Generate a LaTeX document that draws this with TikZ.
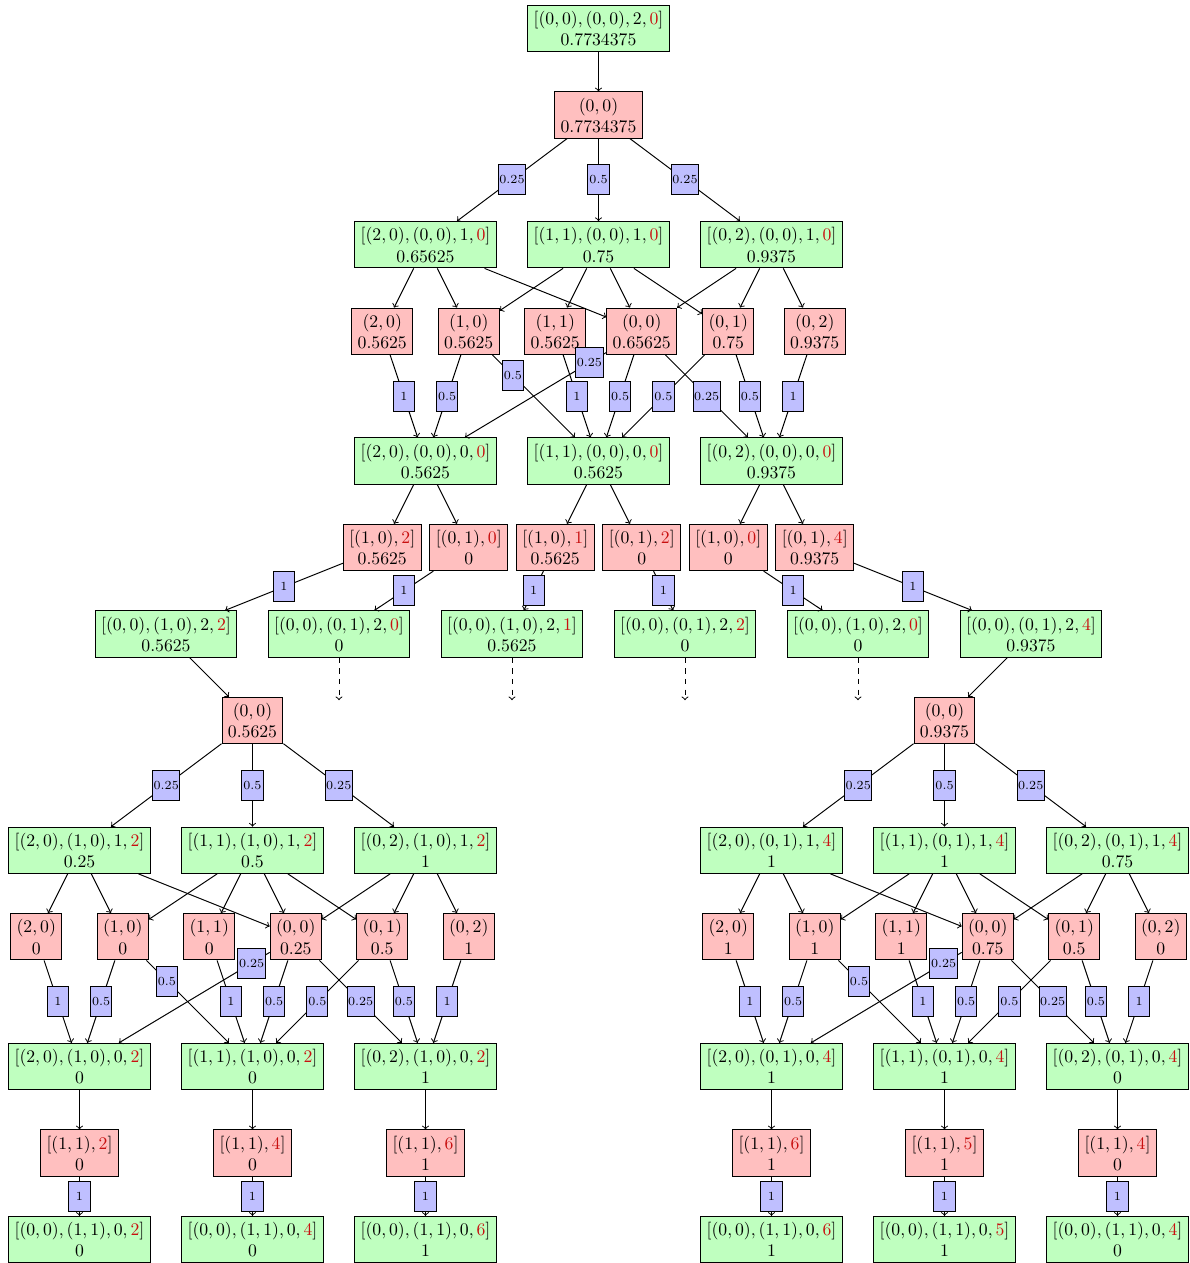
\documentclass[tikz,border=0pt]{standalone}
\usepackage{xcolor}
\definecolor{tagred}{RGB}{200,16,16}
\newcommand{\tg}[1]{\textcolor{tagred}{#1}}
% edges of one expansion block: root -> three states -> six moves -> three states
\newcommand{\blockedges}[1]{%
  \draw[ed] (#1root) -- node[lab]{0.25} (#1g1);
  \draw[ed] (#1root) -- node[lab]{0.5} (#1g2);
  \draw[ed] (#1root) -- node[lab]{0.25} (#1g3);
  \draw[ed] (#1g1) -- (#1ra);
  \draw[ed] (#1g1) -- (#1rb);
  \draw[ed] (#1g1) -- (#1rd);
  \draw[ed] (#1g2) -- (#1rb);
  \draw[ed] (#1g2) -- (#1rc);
  \draw[ed] (#1g2) -- (#1rd);
  \draw[ed] (#1g2) -- (#1re);
  \draw[ed] (#1g3) -- (#1rd);
  \draw[ed] (#1g3) -- (#1re);
  \draw[ed] (#1g3) -- (#1rf);
  \draw[ed] (#1ra) -- node[lab]{1} (#1h1);
  \draw[ed] (#1rb) -- node[lab]{0.5} (#1h1);
  \draw[ed] (#1rb) -- node[lab,pos=0.25]{0.5} (#1h2);
  \draw[ed] (#1rc) -- node[lab]{1} (#1h2);
  \draw[ed] (#1rd) -- node[lab,pos=0.12]{0.25} (#1h1);
  \draw[ed] (#1rd) -- node[lab]{0.5} (#1h2);
  \draw[ed] (#1rd) -- node[lab]{0.25} (#1h3);
  \draw[ed] (#1re) -- node[lab]{0.5} (#1h2);
  \draw[ed] (#1re) -- node[lab]{0.5} (#1h3);
  \draw[ed] (#1rf) -- node[lab]{1} (#1h3);
}
\begin{document}
\begin{tikzpicture}[x=24.44pt,y=-24.44pt,line width=0.55pt,
  gn/.style={draw,fill=green!25,align=center},
  rn/.style={draw,fill=red!25,align=center},
  lab/.style={draw,fill=blue!25,font=\scriptsize,inner xsep=0.6pt,inner ysep=0pt,
              minimum width=12pt,minimum height=17pt},
  ed/.style={->}]
\useasboundingbox (-13.838,-0.659) rectangle (13.676,28.543);

% ---------- upper block ----------
\node[gn] (g0) at (0,0) {$[(0,0),(0,0),2,\tg{0}]$\\$0.7734375$};
\node[rn] (Uroot) at (0,2) {$(0,0)$\\$0.7734375$};
\node[gn] (Ug1) at (-4,5) {$[(2,0),(0,0),1,\tg{0}]$\\$0.65625$};
\node[gn] (Ug2) at (0,5) {$[(1,1),(0,0),1,\tg{0}]$\\$0.75$};
\node[gn] (Ug3) at (4,5) {$[(0,2),(0,0),1,\tg{0}]$\\$0.9375$};
\node[rn] (Ura) at (-5,7) {$(2,0)$\\$0.5625$};
\node[rn] (Urb) at (-3,7) {$(1,0)$\\$0.5625$};
\node[rn] (Urc) at (-1,7) {$(1,1)$\\$0.5625$};
\node[rn] (Urd) at (1,7) {$(0,0)$\\$0.65625$};
\node[rn] (Ure) at (3,7) {$(0,1)$\\$0.75$};
\node[rn] (Urf) at (5,7) {$(0,2)$\\$0.9375$};
\node[gn] (Uh1) at (-4,10) {$[(2,0),(0,0),0,\tg{0}]$\\$0.5625$};
\node[gn] (Uh2) at (0,10) {$[(1,1),(0,0),0,\tg{0}]$\\$0.5625$};
\node[gn] (Uh3) at (4,10) {$[(0,2),(0,0),0,\tg{0}]$\\$0.9375$};
\node[rn] (w1) at (-5,12) {$[(1,0),\tg{2}]$\\$0.5625$};
\node[rn] (w2) at (-3,12) {$[(0,1),\tg{0}]$\\$0$};
\node[rn] (w3) at (-1,12) {$[(1,0),\tg{1}]$\\$0.5625$};
\node[rn] (w4) at (1,12) {$[(0,1),\tg{2}]$\\$0$};
\node[rn] (w5) at (3,12) {$[(1,0),\tg{0}]$\\$0$};
\node[rn] (w6) at (5,12) {$[(0,1),\tg{4}]$\\$0.9375$};
\node[gn] (t1) at (-10,14) {$[(0,0),(1,0),2,\tg{2}]$\\$0.5625$};
\node[gn] (t2) at (-6,14) {$[(0,0),(0,1),2,\tg{0}]$\\$0$};
\node[gn] (t3) at (-2,14) {$[(0,0),(1,0),2,\tg{1}]$\\$0.5625$};
\node[gn] (t4) at (2,14) {$[(0,0),(0,1),2,\tg{2}]$\\$0$};
\node[gn] (t5) at (6,14) {$[(0,0),(1,0),2,\tg{0}]$\\$0$};
\node[gn] (t6) at (10,14) {$[(0,0),(0,1),2,\tg{4}]$\\$0.9375$};
\coordinate (d2) at (-6,15.53);
\coordinate (d3) at (-2,15.53);
\coordinate (d4) at (2,15.53);
\coordinate (d5) at (6,15.53);

% ---------- lower left block ----------
\node[rn] (Lroot) at (-8,16) {$(0,0)$\\$0.5625$};
\node[gn] (Lg1) at (-12,19) {$[(2,0),(1,0),1,\tg{2}]$\\$0.25$};
\node[gn] (Lg2) at (-8,19) {$[(1,1),(1,0),1,\tg{2}]$\\$0.5$};
\node[gn] (Lg3) at (-4,19) {$[(0,2),(1,0),1,\tg{2}]$\\$1$};
\node[rn] (Lra) at (-13,21) {$(2,0)$\\$0$};
\node[rn] (Lrb) at (-11,21) {$(1,0)$\\$0$};
\node[rn] (Lrc) at (-9,21) {$(1,1)$\\$0$};
\node[rn] (Lrd) at (-7,21) {$(0,0)$\\$0.25$};
\node[rn] (Lre) at (-5,21) {$(0,1)$\\$0.5$};
\node[rn] (Lrf) at (-3,21) {$(0,2)$\\$1$};
\node[gn] (Lh1) at (-12,24) {$[(2,0),(1,0),0,\tg{2}]$\\$0$};
\node[gn] (Lh2) at (-8,24) {$[(1,1),(1,0),0,\tg{2}]$\\$0$};
\node[gn] (Lh3) at (-4,24) {$[(0,2),(1,0),0,\tg{2}]$\\$1$};
\node[rn] (Lm1) at (-12,26) {$[(1,1),\tg{2}]$\\$0$};
\node[rn] (Lm2) at (-8,26) {$[(1,1),\tg{4}]$\\$0$};
\node[rn] (Lm3) at (-4,26) {$[(1,1),\tg{6}]$\\$1$};
\node[gn] (Lf1) at (-12,28) {$[(0,0),(1,1),0,\tg{2}]$\\$0$};
\node[gn] (Lf2) at (-8,28) {$[(0,0),(1,1),0,\tg{4}]$\\$0$};
\node[gn] (Lf3) at (-4,28) {$[(0,0),(1,1),0,\tg{6}]$\\$1$};

% ---------- lower right block ----------
\node[rn] (Rroot) at (8,16) {$(0,0)$\\$0.9375$};
\node[gn] (Rg1) at (4,19) {$[(2,0),(0,1),1,\tg{4}]$\\$1$};
\node[gn] (Rg2) at (8,19) {$[(1,1),(0,1),1,\tg{4}]$\\$1$};
\node[gn] (Rg3) at (12,19) {$[(0,2),(0,1),1,\tg{4}]$\\$0.75$};
\node[rn] (Rra) at (3,21) {$(2,0)$\\$1$};
\node[rn] (Rrb) at (5,21) {$(1,0)$\\$1$};
\node[rn] (Rrc) at (7,21) {$(1,1)$\\$1$};
\node[rn] (Rrd) at (9,21) {$(0,0)$\\$0.75$};
\node[rn] (Rre) at (11,21) {$(0,1)$\\$0.5$};
\node[rn] (Rrf) at (13,21) {$(0,2)$\\$0$};
\node[gn] (Rh1) at (4,24) {$[(2,0),(0,1),0,\tg{4}]$\\$1$};
\node[gn] (Rh2) at (8,24) {$[(1,1),(0,1),0,\tg{4}]$\\$1$};
\node[gn] (Rh3) at (12,24) {$[(0,2),(0,1),0,\tg{4}]$\\$0$};
\node[rn] (Rm1) at (4,26) {$[(1,1),\tg{6}]$\\$1$};
\node[rn] (Rm2) at (8,26) {$[(1,1),\tg{5}]$\\$1$};
\node[rn] (Rm3) at (12,26) {$[(1,1),\tg{4}]$\\$0$};
\node[gn] (Rf1) at (4,28) {$[(0,0),(1,1),0,\tg{6}]$\\$1$};
\node[gn] (Rf2) at (8,28) {$[(0,0),(1,1),0,\tg{5}]$\\$1$};
\node[gn] (Rf3) at (12,28) {$[(0,0),(1,1),0,\tg{4}]$\\$0$};

% ---------- connectors ----------
\draw[ed] (g0) -- (Uroot);
\blockedges{U}
\blockedges{L}
\blockedges{R}

\draw[ed] (Uh1) -- (w1);
\draw[ed] (Uh1) -- (w2);
\draw[ed] (Uh2) -- (w3);
\draw[ed] (Uh2) -- (w4);
\draw[ed] (Uh3) -- (w5);
\draw[ed] (Uh3) -- (w6);
\draw[ed] (w1) -- node[lab]{1} (t1);
\draw[ed] (w2) -- node[lab]{1} (t2);
\draw[ed] (w3) -- node[lab]{1} (t3);
\draw[ed] (w4) -- node[lab]{1} (t4);
\draw[ed] (w5) -- node[lab]{1} (t5);
\draw[ed] (w6) -- node[lab]{1} (t6);
\draw[ed,dashed] (t2) -- (d2);
\draw[ed,dashed] (t3) -- (d3);
\draw[ed,dashed] (t4) -- (d4);
\draw[ed,dashed] (t5) -- (d5);
\draw[ed] (t1) -- (Lroot);
\draw[ed] (t6) -- (Rroot);

\foreach \s in {L,R}{
  \foreach \i in {1,2,3}{
    \draw[ed] (\s h\i) -- (\s m\i);
    \draw[ed] (\s m\i) -- node[lab]{1} (\s f\i);
  }
}
\end{tikzpicture}
\end{document}
